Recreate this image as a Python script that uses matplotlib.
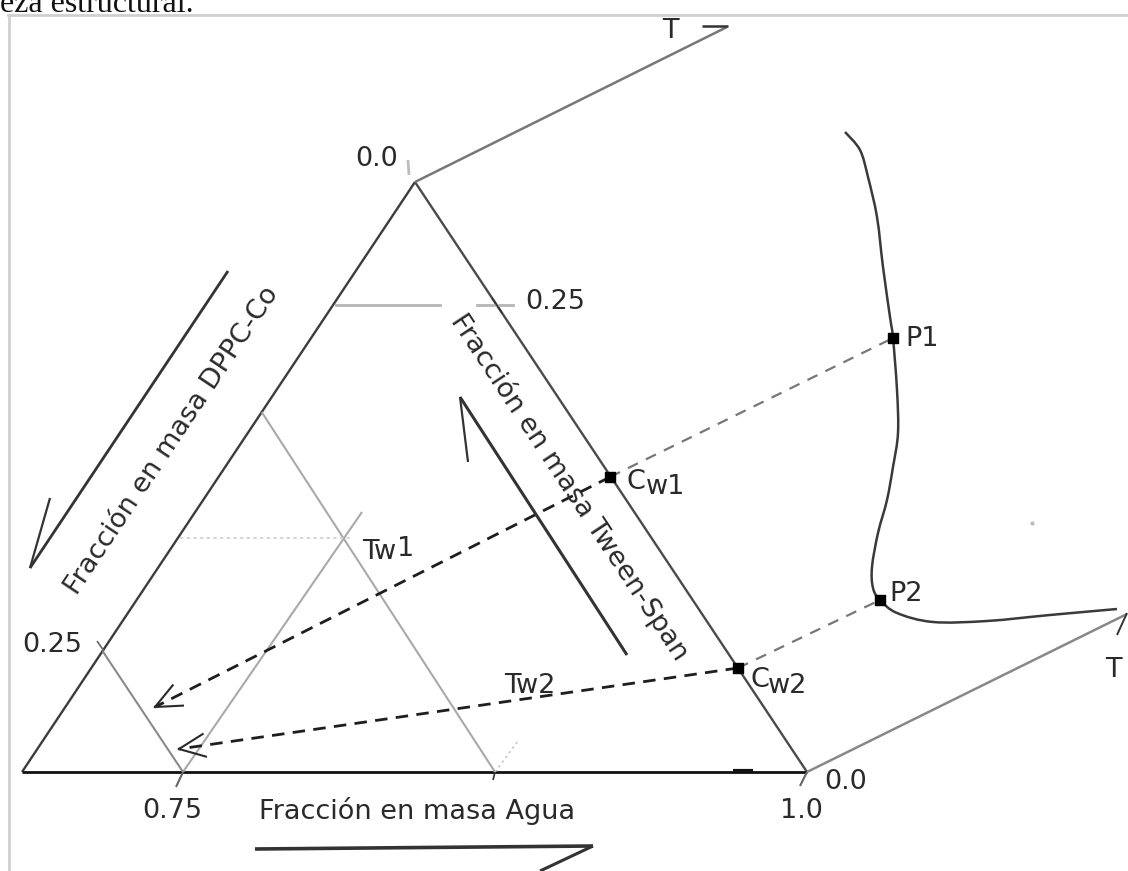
import numpy as np
import matplotlib
matplotlib.use("Agg")
import matplotlib.pyplot as plt
from matplotlib.path import Path
from matplotlib.patches import PathPatch

# ---- diagram geometry (drawing units = pixels of the sheet, y grows downward) ----
apex = (415, 182)
left_vertex = (22, 772)
right_vertex = (807, 772)

# tie-line end points on the Tween-Span edge and on the T-surface
point_names = ["Cw1", "Cw2", "P1", "P2"]
point_x = [610, 738, 893, 880]
point_y = [477, 668, 338, 600]

# dashed projections into the triangle (arrow tips)
tw_tip_x = [155, 179]
tw_tip_y = [707, 749]

# boundary curve on the temperature surface
curve_x = [845, 860, 868, 877, 883, 890, 893, 897, 898, 893, 887, 878, 872, 873,
           880, 897, 933, 987, 1050, 1117]
curve_y = [132, 150, 177, 217, 267, 317, 338, 390, 433, 467, 500, 533, 567, 588,
           600, 613, 622, 621, 615, 609]

# axis texts
axis_labels = ["Fracción en masa DPPC-Co", "Fracción en masa Tween-Span",
               "Fracción en masa Agua"]
tick_labels = ["0.0", "0.25", "0.25", "0.75", "1.0", "0.0"]

plt.rcParams["font.family"] = ["DejaVu Sans"]
fig = plt.figure(figsize=(11.28, 8.71), dpi=100)
ax = fig.add_axes([0, 0, 1, 1])
ax.set_xlim(0, 1128)
ax.set_ylim(871, 0)
ax.axis("off")

TXT = "#2a2a2a"
FS = 19.5

# page remnants: caption above and image frame
ax.text(0, 12.5, "eza estructural.", family="Liberation Serif", fontsize=23,
        color="#111", ha="left", va="baseline")
ax.plot([8, 1128], [15, 15], color="#cfcfcf", lw=2)
ax.plot([9, 9], [15, 871], color="#cfcfcf", lw=2)


def seg(p, q, **kw):
    ax.plot([p[0], q[0]], [p[1], q[1]], solid_capstyle="butt", **kw)


def along(p, q, t):
    return (p[0] + (q[0] - p[0]) * t, p[1] + (q[1] - p[1]) * t)


def smooth_path(xs, ys):
    """Catmull-Rom curve through the given points as cubic Bezier segments."""
    pts = np.column_stack([xs, ys]).astype(float)
    ext = np.vstack([pts[0], pts, pts[-1]])
    verts = [tuple(pts[0])]
    codes = [Path.MOVETO]
    for i in range(1, len(ext) - 2):
        p0, p1, p2, p3 = ext[i - 1], ext[i], ext[i + 1], ext[i + 2]
        c1 = p1 + (p2 - p0) / 6.0
        c2 = p2 - (p3 - p1) / 6.0
        verts += [tuple(c1), tuple(c2), tuple(p2)]
        codes += [Path.CURVE4] * 3
    return Path(verts, codes)


# triangle edges
seg(left_vertex, apex, color="#3c3c3c", lw=1.7)
seg(apex, right_vertex, color="#4a4a4a", lw=1.7)
seg(left_vertex, right_vertex, color="#111", lw=2.0)

# light composition guide lines
guide = "#a9a9a9"
p_left_hi = along(left_vertex, apex, 0.61)
p_left_lo = along(left_vertex, apex, 0.205)
p_left_025 = along(left_vertex, apex, 0.79)
p_base_075 = (183, 772)
p_base_mid = (495, 772)

seg(p_left_hi, p_base_mid, color=guide, lw=1.5)
seg(p_base_075, (362, 512), color=guide, lw=1.5)
seg(p_left_lo, p_base_075, color="#8a8a8a", lw=1.5)
ax.plot([p_left_025[0] + 4, 440], [305, 305], color="#b5b5b5", lw=2)
ax.plot([477, 513], [305, 305], color="#b5b5b5", lw=2)
ax.plot([180, 352], [538, 538], color="#cfcfcf", lw=1.2, ls=(0, (2, 2)))
ax.plot([495, 518], [772, 741], color="#c8c8c8", lw=1.2, ls=(0, (1.5, 2)))

# small tick marks
seg((408, 160), (409, 175), color="#bdbdbd", lw=2)
seg((492, 298), (502, 313), color="#333", lw=1.2)
seg((97, 641), (104, 651), color="#666", lw=1.2)
seg(p_base_075, (176, 787), color="#666", lw=1.5)
seg(right_vertex, (800, 786), color="#666", lw=1.5)
seg((495, 772), (493, 780), color="#333", lw=1.2)
seg((733, 771), (753, 771), color="#111", lw=3)

# temperature axes leaving the triangle
seg(apex, (727, 27), color="#777", lw=1.8)
seg((702, 26), (728, 26), color="#333", lw=1.8)
seg(right_vertex, (1127, 614), color="#888", lw=1.8)
seg((1127, 613), (1117, 635), color="#333", lw=1.4)

# boundary curve
ax.add_patch(PathPatch(smooth_path(curve_x, curve_y), facecolor="none",
                       edgecolor="#3a3a3a", lw=1.8))

# light tie-lines from the surface to the edge
for i, j in ((0, 2), (1, 3)):
    ax.plot([point_x[i], point_x[j]], [point_y[i], point_y[j]],
            color="#777", lw=1.6, ls=(0, (5, 4)))

# dark projections with open arrow heads
for k in range(2):
    sx, sy = point_x[k], point_y[k]
    tx, ty = tw_tip_x[k], tw_tip_y[k]
    ax.plot([sx, tx], [sy, ty], color="#1e1e1e", lw=2.0, ls=(0, (4.5, 3)))
    ang = np.arctan2(sy - ty, sx - tx)
    for s in (-1, 1):
        a = ang + s * np.radians(24)
        ax.plot([tx, tx + 28 * np.cos(a)], [ty, ty + 28 * np.sin(a)],
                color="#2a2a2a", lw=1.5)

# markers
ax.scatter(point_x, point_y, marker="s", s=50, color="black", zorder=5)

# point labels
ax.text(626, 489, "C", fontsize=FS, color=TXT, va="baseline")
ax.text(646, 494, "w1", fontsize=FS, color=TXT, va="baseline")
ax.text(751, 687, "C", fontsize=FS, color=TXT, va="baseline")
ax.text(768, 693, "w2", fontsize=FS, color=TXT, va="baseline")
ax.text(905, 346, "P1", fontsize=FS, color=TXT, va="baseline")
ax.text(889, 601, "P2", fontsize=FS, color=TXT, va="baseline")
ax.text(362, 559, "Tw", fontsize=FS, color=TXT, va="baseline")
ax.text(397, 556, "1", fontsize=FS, color=TXT, va="baseline")
ax.text(504, 693, "Tw2", fontsize=FS, color=TXT, va="baseline")
ax.text(670, 31, "T", fontsize=FS, color=TXT, ha="center", va="center")
ax.text(1113, 670, "T", fontsize=FS, color=TXT, ha="center", va="center")

# tick labels
tick_pos = [(377, 159), (555, 302), (52, 645), (172, 811), (801, 811), (846, 782)]
for lab, (x, y) in zip(tick_labels, tick_pos):
    ax.text(x, y, lab, fontsize=FS, color=TXT, ha="center", va="center")

# axis titles
ax.text(172, 441, axis_labels[0], fontsize=FS, color=TXT, rotation=56.3,
        rotation_mode="anchor", ha="center", va="center")
ax.text(570, 487, axis_labels[1], fontsize=FS, color=TXT, rotation=-56.5,
        rotation_mode="anchor", ha="center", va="center")
ax.text(417, 811, axis_labels[2], fontsize=FS, color=TXT, ha="center",
        va="center")

# direction arrows beside each axis
seg((228, 271), (30, 568), color="#333", lw=2)
seg((30, 568), (50, 498), color="#333", lw=1.6)
seg((627, 655), (460, 397), color="#333", lw=2.2)
seg((460, 397), (468, 462), color="#333", lw=1.6)
seg((255, 849), (593, 846), color="#333", lw=2.6)
seg((593, 846), (540, 871), color="#333", lw=2.2)

ax.scatter([1032], [523], s=4, color="#bbbbbb")

fig.savefig("out.png", dpi=100)
